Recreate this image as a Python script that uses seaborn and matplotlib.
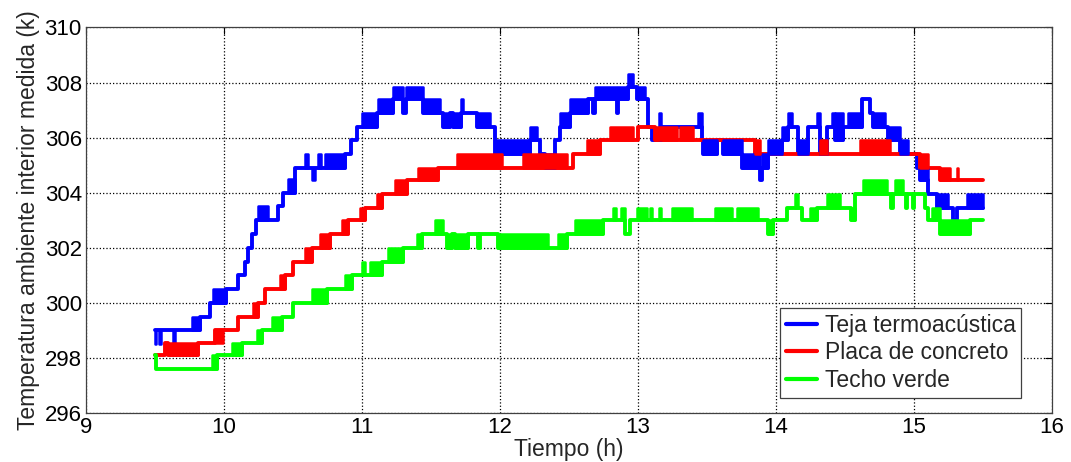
import numpy as np
import pandas as pd
import matplotlib
matplotlib.use("Agg")
import matplotlib.pyplot as plt
import seaborn as sns

# ================= DATA =================
# each segment: (start hour, temperature, flicker value or None); a segment lasts until the next one
END_TIME = 15.5

SERIES_NAMES = ["Teja termoacústica", "Placa de concreto", "Techo verde"]
SERIES_COLORS = ["#0000ff", "#ff0000", "#00ff00"]

teja_segments = [
    (9.50, 299.0, 298.5), (9.51, 299.0, None), (9.53, 299.0, 298.5), (9.54, 299.0, None),
    (9.63, 299.0, 298.5), (9.645, 299.0, None), (9.766, 299.0, 299.5), (9.826, 299.5, None),
    (9.90, 300.0, None), (9.923, 300.0, 300.5), (10.014, 300.5, None), (10.104, 301.0, None),
    (10.152, 301.5, None), (10.176, 302.0, None), (10.20, 302.5, None), (10.232, 303.0, None),
    (10.249, 303.0, 303.5), (10.321, 303.0, None), (10.394, 303.5, None), (10.43, 304.0, None),
    (10.466, 304.0, 304.5), (10.515, 304.9, None), (10.587, 304.9, 305.4), (10.61, 304.9, None),
    (10.635, 304.9, 304.45), (10.66, 304.9, None), (10.68, 304.9, 305.4), (10.70, 304.9, None),
    (10.73, 304.9, 305.4), (10.877, 305.4, None), (10.92, 305.9, None), (10.962, 306.4, None),
    (10.998, 306.4, 306.9), (11.106, 306.9, None), (11.118, 306.9, 307.4), (11.227, 307.4, 307.85),
    (11.30, 306.9, None), (11.32, 307.4, 307.85), (11.445, 306.9, 307.4), (11.565, 306.9, None),
    (11.59, 306.4, 306.9), (11.638, 306.9, None), (11.662, 306.4, 306.9), (11.72, 306.9, 307.4),
    (11.734, 306.9, None), (11.831, 306.4, 306.9), (11.928, 306.4, None), (11.964, 305.4, 305.9),
    (12.217, 305.9, 306.4), (12.266, 305.9, None), (12.29, 305.4, None), (12.326, 304.9, 305.4),
    (12.398, 305.9, None), (12.435, 306.4, 306.9), (12.507, 306.9, 307.4), (12.64, 307.4, None),
    (12.675, 306.9, None), (12.688, 307.4, 307.85), (12.845, 306.9, None), (12.857, 307.4, 307.85),
    (12.93, 307.85, 308.3), (12.966, 307.85, None), (12.99, 307.4, 307.85), (13.05, 307.4, None),
    (13.074, 306.4, None), (13.098, 305.9, None), (13.155, 305.9, 306.9), (13.165, 306.4, None),
    (13.437, 306.4, 306.9), (13.46, 305.9, None), (13.473, 305.4, 305.9), (13.57, 305.9, None),
    (13.619, 305.4, 305.9), (13.751, 304.9, 305.4), (13.884, 304.45, None), (13.895, 304.9, 305.4),
    (13.945, 305.4, 305.9), (14.041, 305.9, 306.4), (14.09, 306.4, 306.9), (14.114, 306.4, None),
    (14.162, 305.4, 305.9), (14.234, 306.4, None), (14.295, 306.4, 306.9), (14.319, 305.4, 305.9),
    (14.367, 306.4, None), (14.403, 306.4, 306.9), (14.428, 305.9, 306.9), (14.488, 306.4, None),
    (14.524, 306.4, 306.9), (14.62, 307.4, None), (14.681, 306.9, None), (14.705, 306.4, 306.9),
    (14.79, 306.4, None), (14.814, 305.9, 306.4), (14.898, 305.4, 305.9), (14.959, 305.4, None),
    (15.02, 304.9, None), (15.044, 304.45, 304.9), (15.10, 303.95, None), (15.164, 303.45, 303.95),
    (15.248, 303.45, None), (15.285, 303.0, None), (15.309, 303.45, None), (15.382, 303.45, 303.95),
]

placa_segments = [
    (9.50, 298.1, None), (9.573, 298.55, None), (9.597, 298.1, 298.55), (9.814, 298.55, None),
    (9.935, 299.0, 298.55), (9.995, 299.0, None), (10.104, 299.5, None), (10.212, 299.5, 300.0),
    (10.249, 300.0, None), (10.297, 300.5, None), (10.406, 300.5, 301.0), (10.442, 301.0, None),
    (10.502, 301.5, None), (10.587, 301.5, 302.0), (10.635, 302.0, None), (10.696, 302.0, 302.5),
    (10.768, 302.5, None), (10.853, 302.5, 303.0), (10.90, 303.0, None), (10.985, 303.0, 303.45),
    (11.022, 303.45, None), (11.106, 303.45, 303.95), (11.142, 303.95, None), (11.239, 303.95, 304.45),
    (11.324, 304.45, None), (11.408, 304.45, 304.9), (11.553, 304.9, None), (11.686, 304.9, 305.4),
    (12.012, 304.9, None), (12.169, 304.9, 305.4), (12.483, 304.9, None), (12.531, 305.4, None),
    (12.628, 305.4, 305.9), (12.724, 305.9, None), (12.797, 305.9, 306.4), (12.966, 305.9, None),
    (13.002, 306.4, None), (13.123, 305.9, 306.4), (13.28, 305.9, None), (13.304, 305.9, 306.4),
    (13.40, 305.9, None), (13.848, 305.4, 305.9), (13.884, 305.4, None), (14.319, 305.4, 305.9),
    (14.367, 305.4, None), (14.608, 305.4, 305.9), (14.826, 305.4, None), (15.044, 304.9, 305.4),
    (15.10, 304.9, None), (15.188, 304.45, 304.9), (15.26, 304.45, None), (15.309, 304.45, 304.9),
    (15.32, 304.45, None),
]

techo_segments = [
    (9.50, 298.1, None), (9.505, 297.6, None), (9.911, 297.6, 298.1), (9.947, 298.1, None),
    (10.056, 298.1, 298.55), (10.128, 298.55, None), (10.237, 298.55, 299.0), (10.273, 299.0, None),
    (10.345, 299.0, 299.5), (10.418, 299.5, None), (10.502, 300.0, None), (10.635, 300.0, 300.5),
    (10.744, 300.5, None), (10.877, 300.5, 301.0), (10.925, 301.0, None), (10.998, 301.0, 301.5),
    (11.022, 301.0, None), (11.058, 301.0, 301.5), (11.142, 301.5, None), (11.191, 301.5, 302.0),
    (11.30, 302.0, None), (11.396, 302.0, 302.5), (11.433, 302.5, None), (11.529, 302.5, 303.0),
    (11.541, 302.5, None), (11.553, 302.5, 303.0), (11.562, 302.5, None), (11.575, 302.5, 303.0),
    (11.585, 302.5, None), (11.614, 302.0, 302.5), (11.65, 302.5, None), (11.674, 302.0, 302.5),
    (11.771, 302.5, None), (11.843, 302.0, None), (11.855, 302.5, None), (11.988, 302.0, 302.5),
    (12.35, 302.0, None), (12.423, 302.0, 302.5), (12.483, 302.5, None), (12.543, 302.5, 303.0),
    (12.749, 303.0, None), (12.821, 303.0, 303.45), (12.84, 303.0, None), (12.88, 303.0, 303.45),
    (12.906, 302.5, None), (12.942, 303.0, None), (12.99, 303.0, 303.45), (13.063, 303.0, None),
    (13.09, 303.0, 303.45), (13.10, 303.0, None), (13.155, 303.0, 303.45), (13.165, 303.0, None),
    (13.244, 303.0, 303.45), (13.389, 303.0, None), (13.558, 303.0, 303.45), (13.679, 303.0, None),
    (13.715, 303.0, 303.45), (13.872, 303.0, None), (13.945, 302.5, 303.0), (13.981, 303.0, None),
    (14.077, 303.45, None), (14.138, 303.45, 303.95), (14.162, 303.45, None), (14.186, 303.0, None),
    (14.246, 303.0, 303.45), (14.295, 303.45, None), (14.367, 303.45, 303.95), (14.464, 303.45, None),
    (14.545, 303.0, 303.45), (14.572, 303.95, None), (14.633, 303.95, 304.45), (14.802, 303.95, None),
    (14.835, 303.45, None), (14.845, 303.95, None), (14.862, 303.95, 304.45), (14.923, 303.95, None),
    (14.94, 303.45, None), (14.95, 303.95, None), (14.99, 303.45, None), (15.00, 303.95, None),
    (15.08, 303.45, None), (15.104, 303.0, None), (15.128, 303.0, 303.45), (15.188, 302.5, 303.0),
    (15.406, 303.0, None),
]

X_TICKS = [9, 10, 11, 12, 13, 14, 15, 16]
Y_TICKS = [296, 298, 300, 302, 304, 306, 308, 310]
# =================================================================


def build_frame(name, segments):
    rows = [(t, v) for t, v, _ in segments]
    rows.append((END_TIME, segments[-1][1]))
    df = pd.DataFrame(rows, columns=["t", "temp"])
    df["serie"] = name
    return df


all_segments = [teja_segments, placa_segments, techo_segments]
df = pd.concat([build_frame(n, s) for n, s in zip(SERIES_NAMES, all_segments)], ignore_index=True)

sns.set_style("white")
plt.rcParams["font.family"] = ["Liberation Sans", "DejaVu Sans"]

fig = plt.figure(figsize=(10.71, 4.62), dpi=100)
ax = fig.add_axes([0.0803, 0.106, 0.9020, 0.8345])

sns.lineplot(data=df, x="t", y="temp", hue="serie", palette=dict(zip(SERIES_NAMES, SERIES_COLORS)),
             estimator=None, sort=False, drawstyle="steps-post", lw=2.8, ax=ax)

# flicker between two adjacent sensor levels -> solid blocks
for segments, color in zip(all_segments, SERIES_COLORS):
    for i, (t0, v, alt) in enumerate(segments):
        if alt is None:
            continue
        t1 = segments[i + 1][0] if i + 1 < len(segments) else END_TIME
        ax.fill_between([t0, t1], [v, v], [alt, alt], color=color, lw=1.8, zorder=2)

ax.set_xlim(9, 16)
ax.set_ylim(296, 310)
ax.set_xticks(X_TICKS)
ax.set_yticks(Y_TICKS)
ax.grid(True, linestyle=":", color="black", lw=0.9)
ax.tick_params(direction="in", top=True, right=True, length=5, labelsize=16, colors="black",
               width=0.8, pad=3)
for sp in ax.spines.values():
    sp.set_color("#404040")
    sp.set_linewidth(0.9)

ax.set_xlabel("Tiempo (h)", fontsize=16.5, labelpad=0)
ax.set_ylabel("Temperatura ambiente interior medida (k)", fontsize=16.5, labelpad=3)

handles, labels = ax.get_legend_handles_labels()
for h in handles:
    h.set_linewidth(3)
leg = ax.legend(handles, labels, loc="lower right", bbox_to_anchor=(0.968, 0.04), fontsize=16.5,
                frameon=True, fancybox=False, edgecolor="#404040", framealpha=1,
                handlelength=1.35, handletextpad=0.35, borderpad=0.25, labelspacing=0.2,
                borderaxespad=0)
leg.get_frame().set_linewidth(0.9)

fig.savefig("out.png", dpi=100)
